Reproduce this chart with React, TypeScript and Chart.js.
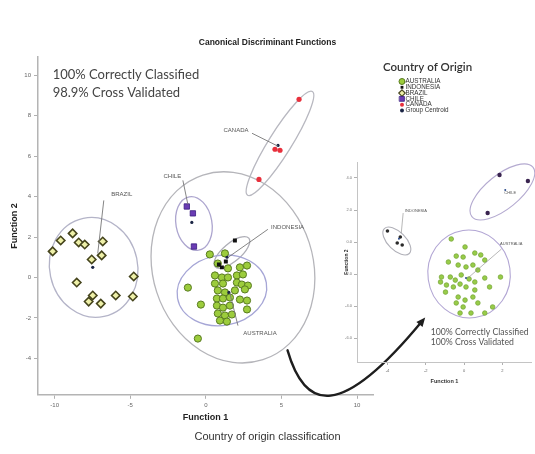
import React, { useEffect, useRef } from 'react';
import { Chart, registerables } from 'chart.js';

Chart.register(...registerables);

const FONT = "'Liberation Sans', Arial, sans-serif";
const NOTE_FONT = "Lato, 'Liberation Sans', sans-serif";

// ---------------- Main chart data ----------------
const mainXTicks = [-10, -5, 0, 5, 10];
const mainYTicks = [10, 8, 6, 4, 2, 0, -2, -4];

const australiaMain = [
  { x: 0.79, y: 0.69 }, { x: 1.46, y: 0.45 }, { x: 2.25, y: 0.5 }, { x: 2.72, y: 0.59 },
  { x: 0.6, y: 0.1 }, { x: 1.06, y: 0.0 }, { x: 1.46, y: 0.0 }, { x: 2.05, y: 0.1 }, { x: 2.45, y: 0.15 },
  { x: 0.6, y: -0.3 }, { x: 1.13, y: -0.3 }, { x: 2.05, y: -0.25 }, { x: 2.38, y: -0.35 }, { x: 2.78, y: -0.4 },
  { x: 0.79, y: -0.64 }, { x: 1.26, y: -0.74 }, { x: 1.92, y: -0.64 }, { x: 2.58, y: -0.59 },
  { x: 0.73, y: -1.04 }, { x: 1.13, y: -1.04 }, { x: 1.59, y: -0.99 }, { x: 2.25, y: -1.09 }, { x: 2.72, y: -1.14 },
  { x: 0.73, y: -1.39 }, { x: 1.13, y: -1.49 }, { x: 1.59, y: -1.39 }, { x: 2.72, y: -1.58 },
  { x: 0.79, y: -1.78 }, { x: 1.26, y: -1.88 }, { x: 1.72, y: -1.83 },
  { x: 0.93, y: -2.13 }, { x: 1.39, y: -2.18 },
  { x: 0.26, y: 1.14 }, { x: 1.26, y: 1.19 }, { x: -1.19, y: -0.5 }, { x: -0.33, y: -1.34 }, { x: -0.53, y: -3.02 },
];
const brazilMain = [
  { x: -10.13, y: 1.29 }, { x: -9.6, y: 1.83 }, { x: -8.81, y: 2.18 }, { x: -8.41, y: 1.73 },
  { x: -8.01, y: 1.63 }, { x: -6.82, y: 1.78 }, { x: -7.55, y: 0.89 }, { x: -6.89, y: 1.09 },
  { x: -8.54, y: -0.25 }, { x: -4.77, y: 0.05 }, { x: -7.48, y: -0.89 }, { x: -7.75, y: -1.19 },
  { x: -6.95, y: -1.29 }, { x: -5.96, y: -0.89 }, { x: -4.83, y: -0.94 },
];
const chileMain = [{ x: -1.26, y: 3.51 }, { x: -0.86, y: 3.17 }, { x: -0.79, y: 1.53 }];
const canadaMain = [{ x: 6.16, y: 8.81 }, { x: 4.57, y: 6.34 }, { x: 4.9, y: 6.29 }, { x: 3.51, y: 4.85 }];
const indonesiaMain = [{ x: 1.92, y: 1.83 }, { x: 1.32, y: 0.79 }, { x: 1.06, y: 0.5 }, { x: 0.86, y: 0.64 }];
const centroidsMain = [
  { x: 1.52, y: -0.74 }, { x: 1.4, y: 1.0 }, { x: -7.48, y: 0.5 }, { x: -0.93, y: 2.72 }, { x: 4.77, y: 6.53 },
];

// group ellipses: centre (data), semi-axes (x-units, y-units), rotation (deg)
const mainEllipses = [
  { group: 'BRAZIL', cx: -7.42, cy: 0.5, rx: 2.91, ry: 2.48, angle: -12 },
  { group: 'CHILE', cx: -0.79, cy: 2.67, rx: 1.19, ry: 1.34, angle: -10 },
  { group: 'CANADA', cx: 4.9, cy: 6.63, rx: 4.04, ry: 0.56, angle: -58 },
  { group: 'ALL', cx: 1.79, cy: 0.5, rx: 5.3, ry: 4.8, angle: -18 },
  { group: 'INDONESIA', cx: 1.72, cy: 1.24, rx: 1.46, ry: 0.45, angle: -40 },
  { group: 'AUSTRALIA', cx: 1.06, cy: -0.64, rx: 2.98, ry: 1.73, angle: -10 },
];
const mainLabels = [
  { text: 'BRAZIL', x: -5.56, y: 4.1, fx: -6.75, fy: 3.81, tx: -7.15, ty: 1.19 },
  { text: 'CHILE', x: -2.22, y: 5.0, fx: -1.52, fy: 4.8, tx: -1.19, ty: 3.61 },
  { text: 'CANADA', x: 1.99, y: 7.28, fx: 3.05, fy: 7.13, tx: 4.77, ty: 6.49 },
  { text: 'INDONESIA', x: 5.4, y: 2.48, fx: 4.1, fy: 2.38, tx: 1.46, ty: 0.99 },
  { text: 'AUSTRALIA', x: 3.58, y: -2.77, fx: 1.59, fy: -0.79, tx: 2.12, ty: -2.38 },
];
const mainNotes = [
  { text: '100% Correctly Classified', x: -10.13, y: 10.0 },
  { text: '98.9% Cross Validated', x: -10.13, y: 9.12 },
];
const arrowPath = [
  { x: 5.4, y: -3.6 }, { x: 6.56, y: -6.58 }, { x: 8.87, y: -7.08 }, { x: 14.5, y: -1.98 },
];
const legendLabels = ['AUSTRALIA', 'INDONESIA', 'BRAZIL', 'CHILE', 'CANADA', 'Group Centroid'];

// ---------------- Inset chart data ----------------
const insetXTicks = [-4, -2, 0, 2];
const insetYTicks = [4, 2, 0, -2, -4, -6];

const australiaInset = [
  { x: -0.67, y: 0.19 }, { x: 0.05, y: -0.31 }, { x: -0.41, y: -0.88 }, { x: -0.05, y: -0.94 },
  { x: 0.56, y: -0.69 }, { x: 0.87, y: -0.81 }, { x: 1.08, y: -1.13 }, { x: -0.82, y: -1.25 },
  { x: -0.31, y: -1.44 }, { x: 0.1, y: -1.56 }, { x: 0.46, y: -1.44 }, { x: 0.72, y: -1.75 },
  { x: -1.18, y: -2.19 }, { x: -0.72, y: -2.19 }, { x: -0.46, y: -2.38 }, { x: -0.15, y: -2.06 },
  { x: 0.26, y: -2.31 }, { x: 0.56, y: -2.5 }, { x: 1.08, y: -2.25 }, { x: 1.9, y: -2.19 },
  { x: -1.23, y: -2.5 }, { x: -0.92, y: -2.69 }, { x: -0.56, y: -2.81 }, { x: -0.21, y: -2.63 },
  { x: 0.1, y: -2.81 }, { x: 0.56, y: -3.0 }, { x: 1.33, y: -2.81 }, { x: -0.97, y: -3.13 },
  { x: -0.31, y: -3.44 }, { x: 0.05, y: -3.63 }, { x: 0.46, y: -3.44 }, { x: -0.41, y: -3.81 },
  { x: -0.05, y: -4.06 }, { x: 0.72, y: -3.81 }, { x: 1.49, y: -4.06 }, { x: 1.08, y: -4.44 },
  { x: -0.21, y: -4.44 }, { x: 0.36, y: -4.44 },
];
const indonesiaInset = [{ x: -4.0, y: 0.69 }, { x: -3.33, y: 0.31 }, { x: -3.49, y: -0.06 }, { x: -3.23, y: -0.19 }];
const chileInset = [{ x: 1.85, y: 4.19 }, { x: 3.33, y: 3.81 }, { x: 1.23, y: 1.81 }];
const centroidsInset = [{ x: 0.1, y: -2.25 }, { x: 2.15, y: 3.25 }, { x: -3.4, y: 0.2 }];

const insetEllipses = [
  { group: 'INDONESIA', cx: -3.51, cy: 0.06, rx: 0.92, ry: 0.56, angle: 45 },
  { group: 'CHILE', cx: 2.0, cy: 3.13, rx: 2.05, ry: 1.06, angle: -39 },
  { group: 'AUSTRALIA', cx: 0.26, cy: -2.0, rx: 2.15, ry: 2.75, angle: -8 },
];
const insetLabels = [
  { text: 'INDONESIA', x: -2.51, y: 1.94, fx: -3.18, fy: 1.81, tx: -3.28, ty: 0.56 },
  { text: 'CHILE', x: 2.41, y: 3.06 },
  { text: 'AUSTRALIA', x: 2.46, y: -0.13, fx: 1.95, fy: -0.44, tx: 0.2, ty: -2.25 },
];
const insetNotes = [
  { text: '100% Correctly Classified', x: -1.74, y: -5.63 },
  { text: '100% Cross Validated', x: -1.74, y: -6.25 },
];

// ---------------- Styles ----------------
const STYLE: Record<string, any> = {
  AUSTRALIA: { pointStyle: 'circle', radius: 3.6, bg: '#9ccc3c', border: '#587a20', bw: 1 },
  INDONESIA: { pointStyle: 'rect', radius: 2.8, bg: '#111111', border: '#111111', bw: 0 },
  BRAZIL: { pointStyle: 'rectRot', radius: 4.2, bg: '#eef0a8', border: '#45441c', bw: 1.6 },
  CHILE: { pointStyle: 'rect', radius: 3.8, bg: '#6a3cb4', border: '#3a1d80', bw: 0.8 },
  CANADA: { pointStyle: 'circle', radius: 2.6, bg: '#e8303c', border: '#e8303c', bw: 0 },
  'Group Centroid': { pointStyle: 'circle', radius: 1.6, bg: '#1b2545', border: '#1b2545', bw: 0 },
};
const INSET_STYLE: Record<string, any> = {
  AUSTRALIA: { pointStyle: 'circle', radius: 2.3, bg: '#98cc48', border: '#79a83a', bw: 0.8 },
  INDONESIA: { pointStyle: 'circle', radius: 1.8, bg: '#2a2a2a', border: '#2a2a2a', bw: 0 },
  CHILE: { pointStyle: 'circle', radius: 2.2, bg: '#3a2450', border: '#3a2450', bw: 0 },
  'Group Centroid': { pointStyle: 'circle', radius: 1.0, bg: '#2a4a8a', border: '#2a4a8a', bw: 0 },
};
const ELLIPSE_COLOR: Record<string, string> = {
  BRAZIL: '#b4b4c8', CHILE: '#ada6cf', CANADA: '#b8b8c0', ALL: '#b5b5ba', INDONESIA: '#aeaeb6', AUSTRALIA: '#a6a6d6',
};
const INSET_ELLIPSE_COLOR: Record<string, string> = {
  INDONESIA: '#b0b0b8', CHILE: '#b4aad0', AUSTRALIA: '#b2a6d4',
};

function ds(label: string, data: any[], st: any, axis?: string) {
  return {
    label, data, showLine: false,
    pointStyle: st.pointStyle, pointRadius: st.radius, pointHoverRadius: st.radius,
    pointBackgroundColor: st.bg, pointBorderColor: st.border, pointBorderWidth: st.bw,
  };
}

function drawMarker(ctx: CanvasRenderingContext2D, st: any, x: number, y: number, r: number) {
  ctx.beginPath();
  if (st.pointStyle === 'circle') ctx.arc(x, y, r, 0, Math.PI * 2);
  else if (st.pointStyle === 'rect') { const s = r / Math.SQRT2; ctx.rect(x - s, y - s, 2 * s, 2 * s); }
  else { ctx.moveTo(x, y - r); ctx.lineTo(x + r, y); ctx.lineTo(x, y + r); ctx.lineTo(x - r, y); ctx.closePath(); }
  ctx.fillStyle = st.bg; ctx.fill();
  if (st.bw) { ctx.lineWidth = Math.min(st.bw, 1.2); ctx.strokeStyle = st.border; ctx.stroke(); }
}

function overlay(id: string, o: any) {
  return {
    id,
    beforeDatasetsDraw(chart: any) {
      const { ctx, scales: { x, y } } = chart;
      const ux = Math.abs(x.getPixelForValue(1) - x.getPixelForValue(0));
      const uy = Math.abs(y.getPixelForValue(1) - y.getPixelForValue(0));
      o.ellipses.forEach((e: any) => {
        ctx.save();
        ctx.beginPath();
        ctx.ellipse(x.getPixelForValue(e.cx), y.getPixelForValue(e.cy), e.rx * ux, e.ry * uy, (e.angle * Math.PI) / 180, 0, Math.PI * 2);
        ctx.strokeStyle = o.ellipseColors[e.group];
        ctx.lineWidth = o.ellipseWidth;
        ctx.stroke();
        ctx.restore();
      });
    },
    afterDatasetsDraw(chart: any) {
      const { ctx, scales: { x, y } } = chart;
      ctx.save();
      o.labels.forEach((l: any) => {
        if (l.fx !== undefined) {
          ctx.beginPath();
          ctx.moveTo(x.getPixelForValue(l.fx), y.getPixelForValue(l.fy));
          ctx.lineTo(x.getPixelForValue(l.tx), y.getPixelForValue(l.ty));
          ctx.strokeStyle = o.leaderColor;
          ctx.lineWidth = o.leaderWidth;
          ctx.stroke();
        }
        ctx.font = o.labelFont;
        ctx.fillStyle = o.labelColor;
        ctx.textAlign = 'center';
        ctx.textBaseline = 'middle';
        ctx.fillText(l.text, x.getPixelForValue(l.x), y.getPixelForValue(l.y));
      });
      o.notes.forEach((n: any) => {
        ctx.font = o.noteFont;
        ctx.fillStyle = o.noteColor;
        ctx.textAlign = 'left';
        ctx.textBaseline = 'middle';
        ctx.fillText(n.text, x.getPixelForValue(n.x), y.getPixelForValue(n.y));
      });
      ctx.restore();
    },
    afterDraw(chart: any) {
      if (o.extra) o.extra(chart);
    },
  };
}

function drawArrowAndLegend(chart: any) {
  const { ctx, scales: { x, y }, chartArea } = chart;
  const p = arrowPath.map((q) => ({ x: x.getPixelForValue(q.x), y: y.getPixelForValue(q.y) }));
  ctx.save();
  ctx.beginPath();
  ctx.moveTo(p[0].x, p[0].y);
  ctx.bezierCurveTo(p[1].x, p[1].y, p[2].x, p[2].y, p[3].x - 3, p[3].y + 3.5);
  ctx.strokeStyle = '#1e1e1e';
  ctx.lineWidth = 2.4;
  ctx.lineCap = 'round';
  ctx.stroke();
  const ang = Math.atan2(p[3].y - p[2].y, p[3].x - p[2].x);
  const L = 9, W = 4;
  ctx.beginPath();
  ctx.moveTo(p[3].x, p[3].y);
  ctx.lineTo(p[3].x - L * Math.cos(ang) + W * Math.sin(ang), p[3].y - L * Math.sin(ang) - W * Math.cos(ang));
  ctx.lineTo(p[3].x - L * Math.cos(ang) - W * Math.sin(ang), p[3].y - L * Math.sin(ang) + W * Math.cos(ang));
  ctx.closePath();
  ctx.fillStyle = '#1e1e1e';
  ctx.fill();

  // legend
  const lx = chartArea.right + 10;
  ctx.font = `600 11.5px ${NOTE_FONT}`;
  ctx.fillStyle = '#333';
  ctx.textAlign = 'left';
  ctx.textBaseline = 'middle';
  ctx.fillText('Country of Origin', lx, 67);
  legendLabels.forEach((name, i) => {
    const yy = 81.5 + i * 5.8;
    const st = STYLE[name];
    const r = name === 'BRAZIL' ? 3.2 : name === 'AUSTRALIA' ? 3 : name === 'CHILE' ? 3.4 : 2;
    drawMarker(ctx, st, lx + 19, yy, r);
    ctx.font = `6.3px ${FONT}`;
    ctx.fillStyle = '#333';
    ctx.fillText(name, lx + 22.5, yy);
  });
  ctx.restore();
}

function axisCommon(tickSize: number, tickLen: number, pad: number) {
  return {
    grid: { display: true, drawOnChartArea: false, drawTicks: true, tickLength: tickLen, color: '#b0b0b0', lineWidth: 1 },
    border: { display: true, color: '#b4b4b4', width: 1.5 },
    ticks: { font: { size: tickSize, family: FONT }, color: '#666', padding: pad },
  };
}

function mainConfig(): any {
  return {
    type: 'scatter',
    data: {
      datasets: [
        ds('Group Centroid', centroidsMain, STYLE['Group Centroid']),
        ds('INDONESIA', indonesiaMain, STYLE.INDONESIA),
        ds('CANADA', canadaMain, STYLE.CANADA),
        ds('CHILE', chileMain, STYLE.CHILE),
        ds('BRAZIL', brazilMain, STYLE.BRAZIL),
        ds('AUSTRALIA', australiaMain, STYLE.AUSTRALIA),
      ],
    },
    options: {
      animation: false,
      responsive: false,
      events: [],
      layout: { padding: { left: 0, right: 0, top: 0, bottom: 0 } },
      plugins: {
        legend: { display: false },
        tooltip: { enabled: false },
        title: {
          display: true, text: 'Canonical Discriminant Functions', color: '#222',
          font: { family: FONT, size: 8.5, weight: 'bold' }, padding: { top: 38, bottom: 8.8 },
        },
        subtitle: {
          display: true, position: 'bottom', text: 'Country of origin classification', color: '#333',
          font: { family: FONT, size: 11 }, padding: { top: 8, bottom: 10 },
        },
      },
      scales: {
        x: {
          type: 'linear', min: -11.1, max: 11.05,
          afterBuildTicks: (s: any) => { s.ticks = mainXTicks.map((v) => ({ value: v })); },
          afterFit: (s: any) => { s.height = 28; },
          ...axisCommon(6, 4, 3),
          title: { display: true, text: 'Function 1', color: '#222', font: { family: FONT, size: 9, weight: 'bold' }, padding: { top: 0, bottom: 0 } },
        },
        y: {
          type: 'linear', min: -5.8, max: 10.9,
          afterBuildTicks: (s: any) => { s.ticks = mainYTicks.map((v) => ({ value: v })); },
          afterFit: (s: any) => { s.width = 38; },
          ...axisCommon(6, 4, 3),
          title: { display: true, text: 'Function 2', color: '#222', font: { family: FONT, size: 9, weight: 'bold' }, padding: { top: 9.6, bottom: 0 } },
        },
        // empty right-hand band that holds the legend and the inset
        side: {
          type: 'linear', position: 'right', display: true,
          grid: { display: false }, border: { display: false }, ticks: { display: false },
          afterFit: (s: any) => { s.width = 162; },
        },
      },
    },
    plugins: [
      overlay('mainOverlay', {
        ellipses: mainEllipses, ellipseColors: ELLIPSE_COLOR, ellipseWidth: 1.3,
        labels: mainLabels, labelFont: `6px ${FONT}`, labelColor: '#555', leaderColor: '#777', leaderWidth: 0.9,
        notes: mainNotes, noteFont: `13px ${NOTE_FONT}`, noteColor: '#444',
        extra: drawArrowAndLegend,
      }),
    ],
  };
}

function insetConfig(): any {
  return {
    type: 'scatter',
    data: {
      datasets: [
        ds('Group Centroid', centroidsInset, INSET_STYLE['Group Centroid']),
        ds('INDONESIA', indonesiaInset, INSET_STYLE.INDONESIA),
        ds('CHILE', chileInset, INSET_STYLE.CHILE),
        ds('AUSTRALIA', australiaInset, INSET_STYLE.AUSTRALIA),
      ],
    },
    options: {
      animation: false,
      responsive: false,
      events: [],
      layout: { padding: { left: 0, right: 0, top: 12, bottom: 0 } },
      plugins: { legend: { display: false }, tooltip: { enabled: false } },
      scales: {
        x: {
          type: 'linear', min: -5.59, max: 3.54,
          afterBuildTicks: (s: any) => { s.ticks = insetXTicks.map((v) => ({ value: v })); },
          afterFit: (s: any) => { s.height = 33; },
          ...axisCommon(4, 3, 3),
          border: { display: true, color: '#c4c4c4', width: 1 },
          title: { display: true, text: 'Function 1', color: '#333', font: { family: FONT, size: 5.5, weight: 'bold' }, padding: { top: 0, bottom: 10.4 } },
        },
        y: {
          type: 'linear', min: -7.5, max: 5,
          afterBuildTicks: (s: any) => { s.ticks = insetYTicks.map((v) => ({ value: v })); },
          afterFit: (s: any) => { s.width = 17; },
          ...axisCommon(4, 3, 2),
          border: { display: true, color: '#c4c4c4', width: 1 },
          ticks: { font: { size: 4, family: FONT }, color: '#777', padding: 2, callback: (v: number) => v.toFixed(1) },
          title: { display: true, text: 'Function 2', color: '#333', font: { family: FONT, size: 5, weight: 'bold' }, padding: { top: 4, bottom: 0 } },
        },
      },
    },
    plugins: [
      overlay('insetOverlay', {
        ellipses: insetEllipses, ellipseColors: INSET_ELLIPSE_COLOR, ellipseWidth: 1.1,
        labels: insetLabels, labelFont: `4px ${FONT}`, labelColor: '#555', leaderColor: '#888', leaderWidth: 0.6,
        notes: insetNotes, noteFont: `8.7px ${NOTE_FONT}`, noteColor: '#555',
      }),
    ],
  };
}

export default function App() {
  const mainRef = useRef<HTMLCanvasElement>(null);
  const insetRef = useRef<HTMLCanvasElement>(null);
  useEffect(() => {
    const main = new Chart(mainRef.current as HTMLCanvasElement, mainConfig());
    const inset = new Chart(insetRef.current as HTMLCanvasElement, insetConfig());
    return () => {
      main.destroy();
      inset.destroy();
    };
  }, []);
  return (
    <div style={{ position: 'fixed', left: 0, top: 0, width: 535, height: 454, background: '#fff', overflow: 'hidden' }}>
      <canvas ref={mainRef} width={535} height={454} style={{ position: 'absolute', left: 0, top: 0, width: 535, height: 454 }} />
      <canvas ref={insetRef} width={195} height={245} style={{ position: 'absolute', left: 340, top: 150, width: 195, height: 245 }} />
    </div>
  );
}
